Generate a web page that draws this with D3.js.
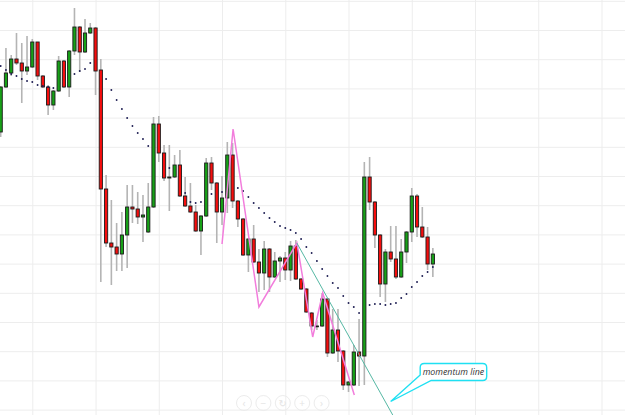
<!DOCTYPE html>
<html>
<head>
<meta charset="utf-8">
<script src="https://cdnjs.cloudflare.com/ajax/libs/d3/7.8.5/d3.min.js"></script>
<style>
  html, body { margin: 0; padding: 0; background: #fff; }
  svg { display: block; }
</style>
</head>
<body>
<div id="chart"></div>
<script>
'use strict';

// ohlc, one entry per candle
var opens = [
  1.1268, 1.1313, 1.1327, 1.1341, 1.1337, 1.1329, 1.1333, 1.1358, 1.1324, 1.1313,
  1.1295, 1.1309, 1.1339, 1.1313, 1.1349, 1.1373, 1.1348, 1.1367, 1.1372, 1.1330,
  1.1211, 1.1157, 1.1153, 1.1146, 1.1165, 1.1193, 1.1191, 1.1183, 1.1168, 1.1193,
  1.1276, 1.1247, 1.1222, 1.1223, 1.1235, 1.1204, 1.1194, 1.1188, 1.1169, 1.1184,
  1.1237, 1.1217, 1.1188, 1.1202, 1.1245, 1.1199, 1.1181, 1.1145, 1.1161, 1.1138,
  1.1127, 1.1151, 1.1123, 1.1139, 1.1142, 1.1130, 1.1154, 1.1121, 1.1111, 1.1087,
  1.10735, 1.1074, 1.1101, 1.1047, 1.1070, 1.1049, 1.1015, 1.1015, 1.1048, 1.1044,
  1.1223, 1.1198, 1.1165, 1.1116, 1.1148, 1.1141, 1.1123, 1.1148, 1.1168, 1.1204,
  1.1173, 1.1163, 1.1136
];
var highs = [
  1.1314, 1.1352, 1.1345, 1.1367, 1.1357, 1.1364, 1.1361, 1.1358, 1.1325, 1.1315,
  1.1310, 1.1344, 1.1340, 1.1350, 1.1392, 1.1374, 1.1381, 1.1377, 1.1373, 1.1341,
  1.1225, 1.1200, 1.1177, 1.1188, 1.1215, 1.1215, 1.1208, 1.1205, 1.1217, 1.1283,
  1.1284, 1.1255, 1.1255, 1.1245, 1.1250, 1.1223, 1.1217, 1.1195, 1.1185, 1.1242,
  1.1243, 1.1218, 1.1224, 1.1258, 1.1257, 1.1200, 1.1182, 1.1162, 1.1175, 1.1151,
  1.1159, 1.1152, 1.1148, 1.1144, 1.1148, 1.1159, 1.1160, 1.1122, 1.1112, 1.1088,
  1.1080, 1.1107, 1.1102, 1.1091, 1.1091, 1.1050, 1.1019, 1.1055, 1.1081, 1.1238,
  1.1243, 1.1199, 1.1166, 1.1151, 1.1174, 1.1174, 1.1161, 1.1169, 1.1212, 1.1206,
  1.1193, 1.1173, 1.1152
];
var lows = [
  1.1263, 1.1312, 1.1324, 1.1335, 1.1297, 1.1325, 1.1332, 1.1320, 1.1312, 1.1285,
  1.1290, 1.1308, 1.1312, 1.1303, 1.1345, 1.1328, 1.1347, 1.1366, 1.1305, 1.1118,
  1.1153, 1.1115, 1.1129, 1.1129, 1.1132, 1.1177, 1.1176, 1.1158, 1.1167, 1.1192,
  1.1238, 1.1219, 1.1189, 1.1222, 1.1203, 1.1193, 1.1187, 1.1168, 1.1145, 1.1183,
  1.1210, 1.1157, 1.1175, 1.1187, 1.1192, 1.1173, 1.1144, 1.1128, 1.1137, 1.1108,
  1.1110, 1.1108, 1.1122, 1.1118, 1.1120, 1.1119, 1.1120, 1.1110, 1.1087, 1.1070,
  1.1070, 1.1073, 1.1043, 1.1046, 1.1038, 1.1010, 1.1008, 1.1014, 1.1014, 1.1015,
  1.1190, 1.1152, 1.1103, 1.1098, 1.1138, 1.1121, 1.1122, 1.1137, 1.1158, 1.1163,
  1.1162, 1.1130, 1.1123
];
var closes = [
  1.1313, 1.1327, 1.1341, 1.1337, 1.1329, 1.1333, 1.1358, 1.1324, 1.1313, 1.1295,
  1.1309, 1.1339, 1.1313, 1.1349, 1.1373, 1.1348, 1.1367, 1.1372, 1.1329, 1.1211,
  1.1157, 1.1153, 1.1146, 1.1165, 1.1193, 1.1191, 1.1183, 1.1185, 1.1193, 1.1276,
  1.1247, 1.1222, 1.1223, 1.1235, 1.1204, 1.1194, 1.1188, 1.1169, 1.1184, 1.1237,
  1.1217, 1.1188, 1.1202, 1.1245, 1.1199, 1.1181, 1.1145, 1.1161, 1.1138, 1.1127,
  1.1151, 1.1123, 1.1139, 1.1142, 1.1130, 1.1154, 1.1121, 1.1111, 1.1088, 1.1074,
  1.1074, 1.1101, 1.1047, 1.1070, 1.1049, 1.1015, 1.1018, 1.1048, 1.1044, 1.1223,
  1.1198, 1.1165, 1.1116, 1.1148, 1.1141, 1.1123, 1.1148, 1.1168, 1.1204, 1.1173,
  1.1163, 1.1136, 1.1146
];

// dotted trailing stop (null = no dot on that candle)
var sar = [
  1.1334, 1.1330, 1.1326, 1.1324, 1.1321, 1.1319, 1.1318, 1.1315, 1.1314, 1.1313,
  1.1312, null, null, null, 1.1326, 1.1329, 1.1331, 1.1337, null, null,
  1.1321, 1.1310, 1.1300, 1.1291, 1.1282, 1.1274, 1.1267, 1.1261, 1.1254, null,
  null, null, 1.1232, null, null, 1.1207, 1.1198, 1.1197, 1.1198, null,
  1.1206, null, 1.1208, null, null, 1.1212, 1.1209, 1.1203, 1.1197, 1.1192,
  1.1187, 1.1182, 1.1178, 1.1174, 1.1172, 1.1170, 1.1167, 1.1161, 1.1153, 1.1147,
  1.1139, 1.1131, 1.1124, 1.1117, 1.1112, 1.1104, 1.1097, 1.1093, 1.1087, null,
  1.1095, 1.1096, 1.1096, 1.1095, 1.1096, 1.1097, 1.1102, 1.1106, 1.1113, 1.1118,
  1.1124, 1.1128, 1.1133
];

// hand drawn studies: [candle index, price]
var zigzag = [[42, 1.1156], [44.1, 1.1271], [49, 1.1093], [56.2, 1.1157], [59.2, 1.1063], [61.1, 1.1107], [67.1, 1.1005]];
var momentum = [[56.2, 1.1157], [74.6, 1.0983]];
var calloutAt = [74.0, 1.09985];
var calloutText = 'momentum line';

// grid
var gridEvery = 12;       // candles between vertical lines
var gridFirst = 6;
var gridTop = 1.1370;
var gridStep = 0.00292;

var W = 625, H = 415;

var svg = d3.select('#chart').append('svg')
  .attr('width', W).attr('height', H)
  .style('font-family', '"Open Sans", "DejaVu Sans", sans-serif');

svg.append('rect').attr('width', W).attr('height', H).attr('fill', '#fff');

var x = d3.scaleLinear().domain([0, 114]).range([0.68, 601.5]);
var y = d3.scaleLinear().domain([1.0985, 1.1400]).range([H, 0]);

var candles = opens.map(function (o, i) {
  return { i: i, o: o, h: highs[i], l: lows[i], c: closes[i] };
});

//grid lines through the library axes
var vAxis = svg.append('g')
  .call(d3.axisTop(x).tickValues(d3.range(gridFirst, 115, gridEvery)).tickSize(-H).tickFormat(''));
var hAxis = svg.append('g')
  .call(d3.axisLeft(y).tickValues(d3.range(-1, 14).map(function (k) { return gridTop - k * gridStep; }))
    .tickSize(-W).tickFormat(''));
[vAxis, hAxis].forEach(function (g) {
  g.select('.domain').remove();
  g.selectAll('line').attr('stroke', '#ededed').attr('stroke-width', 1);
});

// zoom buttons, very faint
var btns = ['\u2039', '\u2212', '\u21bb', '+', '\u203a'];
var nav = svg.append('g').attr('class', 'nav');
nav.selectAll('circle').data(btns).enter().append('circle')
  .attr('cx', function (d, i) { return 244 + i * 19.4; })
  .attr('cy', 403)
  .attr('r', 7.5)
  .attr('fill', 'none')
  .attr('stroke', '#ececec');
nav.selectAll('text').data(btns).enter().append('text')
  .attr('x', function (d, i) { return 244 + i * 19.4; })
  .attr('y', 406.5)
  .attr('text-anchor', 'middle')
  .attr('font-size', 10)
  .attr('fill', '#e4e4e4')
  .text(function (d) { return d; });

// candles
var cg = svg.append('g').attr('class', 'candles');
cg.selectAll('line').data(candles).enter().append('line')
  .attr('x1', function (d) { return x(d.i); })
  .attr('x2', function (d) { return x(d.i); })
  .attr('y1', function (d) { return y(d.h); })
  .attr('y2', function (d) { return y(d.l); })
  .attr('stroke', '#b4b4b4')
  .attr('stroke-width', 1.6);

cg.selectAll('rect').data(candles).enter().append('rect')
  .attr('x', function (d) { return x(d.i) - 1.6; })
  .attr('width', 3.2)
  .attr('y', function (d) { return y(Math.max(d.o, d.c)); })
  .attr('height', function (d) { return Math.max(Math.abs(y(d.o) - y(d.c)), 0.8); })
  .attr('fill', function (d) { return d.c >= d.o ? '#17a117' : '#f50e0e'; })
  .attr('stroke', '#1b1b1b')
  .attr('stroke-width', 0.9);

// dotted stop
svg.append('g').selectAll('circle')
  .data(sar.map(function (v, i) { return { i: i, v: v }; }).filter(function (d) { return d.v !== null; }))
  .enter().append('circle')
  .attr('cx', function (d) { return x(d.i); })
  .attr('cy', function (d) { return y(d.v); })
  .attr('r', 0.95)
  .attr('fill', '#1d1d52');

var line = d3.line()
  .x(function (d) { return x(d[0]); })
  .y(function (d) { return y(d[1]); });

svg.append('path').datum(zigzag)
  .attr('d', line)
  .attr('fill', 'none')
  .attr('stroke', '#f27ddc')
  .attr('stroke-width', 1.5);

svg.append('path').datum(momentum)
  .attr('d', line)
  .attr('fill', 'none')
  .attr('stroke', '#56b8a4')
  .attr('stroke-width', 1);

// callout pointing at the momentum line
var tx = x(calloutAt[0]), ty = y(calloutAt[1]);
var bx = tx + 29.5, by = ty - 38, bw = 66.5, bh = 17, r = 4;
var p = d3.path();
p.moveTo(bx + r, by);
p.lineTo(bx + bw - r, by);
p.quadraticCurveTo(bx + bw, by, bx + bw, by + r);
p.lineTo(bx + bw, by + bh - r);
p.quadraticCurveTo(bx + bw, by + bh, bx + bw - r, by + bh);
p.lineTo(bx + 11, by + bh);
p.lineTo(tx, ty);
p.lineTo(bx, by + 11.5);
p.lineTo(bx, by + r);
p.quadraticCurveTo(bx, by, bx + r, by);
p.closePath();
svg.append('path')
  .attr('d', p.toString())
  .attr('fill', '#fff')
  .attr('stroke', '#1fe0f2')
  .attr('stroke-width', 1.4);
svg.append('text')
  .attr('x', bx + bw / 2)
  .attr('y', by + 11.5)
  .attr('text-anchor', 'middle')
  .attr('font-size', 8.8)
  .attr('font-style', 'italic')
  .attr('fill', '#333')
  .text(calloutText);
</script>
</body>
</html>
